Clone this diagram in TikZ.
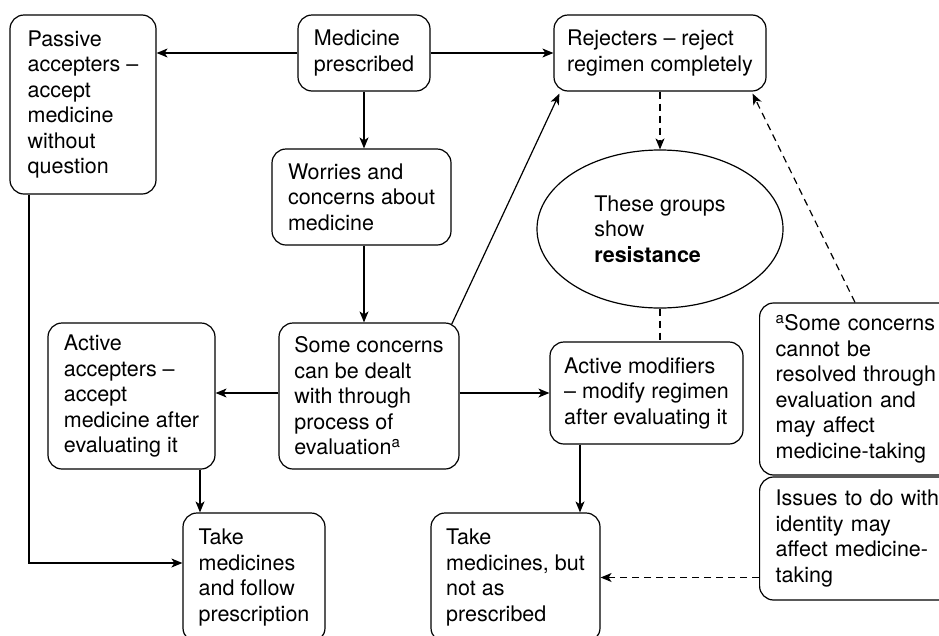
\documentclass[tikz,border=0pt]{standalone}
\usepackage{fontspec}
\setmainfont{TeX Gyre Heros}
\usetikzlibrary{arrows.meta,shapes.geometric}
\tikzset{
  box/.style={draw, line width=1.2pt, rounded corners=14pt, align=left, inner sep=4pt,
    font=\fontsize{21.5}{25.5}\selectfont},
  ellbox/.style={draw, line width=1.2pt, ellipse, align=left, inner sep=0pt,
    font=\fontsize{21.5}{25.5}\selectfont},
  arr/.style={line width=1.2pt, -{Stealth[length=11pt,width=9pt,inset=3pt]}},
  darr/.style={arr, dash pattern=on 7pt off 5pt},
  dline/.style={line width=1.2pt, dash pattern=on 7pt off 5pt}
}
\begin{document}
\begin{tikzpicture}[x=1pt,y=-1pt]
\useasboundingbox (0,0) rectangle (939,635);
\clip (0,0) rectangle (939,635);
\fill[white] (0,0) rectangle (939,635);

\node[box, minimum width=146pt, minimum height=179pt] (passive) at (83,104.5)
  {Passive\\accepters --\\accept\\medicine\\without\\question};
\node[box, minimum width=132pt, minimum height=76pt] (med) at (364,53)
  {Medicine\\prescribed};
\node[box, minimum width=212pt, minimum height=76pt] (rej) at (660,53)
  {Rejecters -- reject\\regimen completely};
\node[box, minimum width=179pt, minimum height=96pt] (worr) at (361.5,197)
  {Worries and\\concerns about\\medicine};
\node[ellbox, minimum width=246pt, minimum height=158pt] (ell) at (660,229)
  {These groups\\show\\\textbf{resistance}};
\node[box, minimum width=180pt, minimum height=146pt] (some) at (369,396)
  {Some concerns\\can be dealt\\with through\\process of\\evaluation\textsuperscript{a}};
\node[box, minimum width=167pt, minimum height=146pt] (acc) at (131.5,396)
  {Active\\accepters --\\accept\\medicine after\\evaluating it};
\node[box, minimum width=193pt, minimum height=102pt] (mod) at (646.5,393)
  {Active modifiers\\-- modify regimen\\after evaluating it};
\node[box, inner xsep=16pt, text width=175pt, minimum height=172pt, anchor=west] (foot) at (759,389)
  {\textsuperscript{a}Some concerns\\cannot be\\resolved through\\evaluation and\\may affect\\medicine-taking};
\node[box, inner xsep=16pt, text width=175pt, minimum height=123pt, anchor=west] (issues) at (759,538.5)
  {Issues to do with\\identity may\\affect medicine-\\taking};
\node[box, minimum width=142pt, minimum height=129pt] (take1) at (254,577.5)
  {Take\\medicines\\and follow\\prescription};
\node[box, minimum width=169pt, minimum height=129pt] (take2) at (515.5,577.5)
  {Take\\medicines, but\\not as\\prescribed};

% connectors
\draw[arr] (med.west) -- (med.west -| passive.east);
\draw[arr] (med.east) -- (med.east -| rej.west);
\draw[arr] (med.south) -- (med.south |- worr.north);
\draw[arr] (med.south |- worr.south) -- (med.south |- some.north);
\draw[arr] ([xshift=-8pt,yshift=-2pt]some.north east) -- ([xshift=6pt,yshift=-2pt]rej.south west);
\draw[arr] ([yshift=3pt]some.west) -- ([yshift=3pt]acc.east);
\draw[arr] (mod.west -| some.east) -- (mod.west);
\draw[arr] ([xshift=68.5pt]acc.south) coordinate (a1) -- (a1 |- take1.north);
\draw[arr] ([xshift=-54pt]passive.south) |- ([yshift=14.5pt]take1.west);
\draw[arr] ([xshift=-66.5pt]mod.south) coordinate (m1) -- (m1 |- take2.north);
\draw[darr] (rej.south) -- (ell.north);
\draw[dline] (ell.south) -- (ell.south |- mod.north);
\draw[darr] ([xshift=96pt]foot.north west) -- ([xshift=-14pt,yshift=-2pt]rej.south east);
\draw[darr] (take2.east -| issues.west) -- (take2.east);
\end{tikzpicture}
\end{document}
